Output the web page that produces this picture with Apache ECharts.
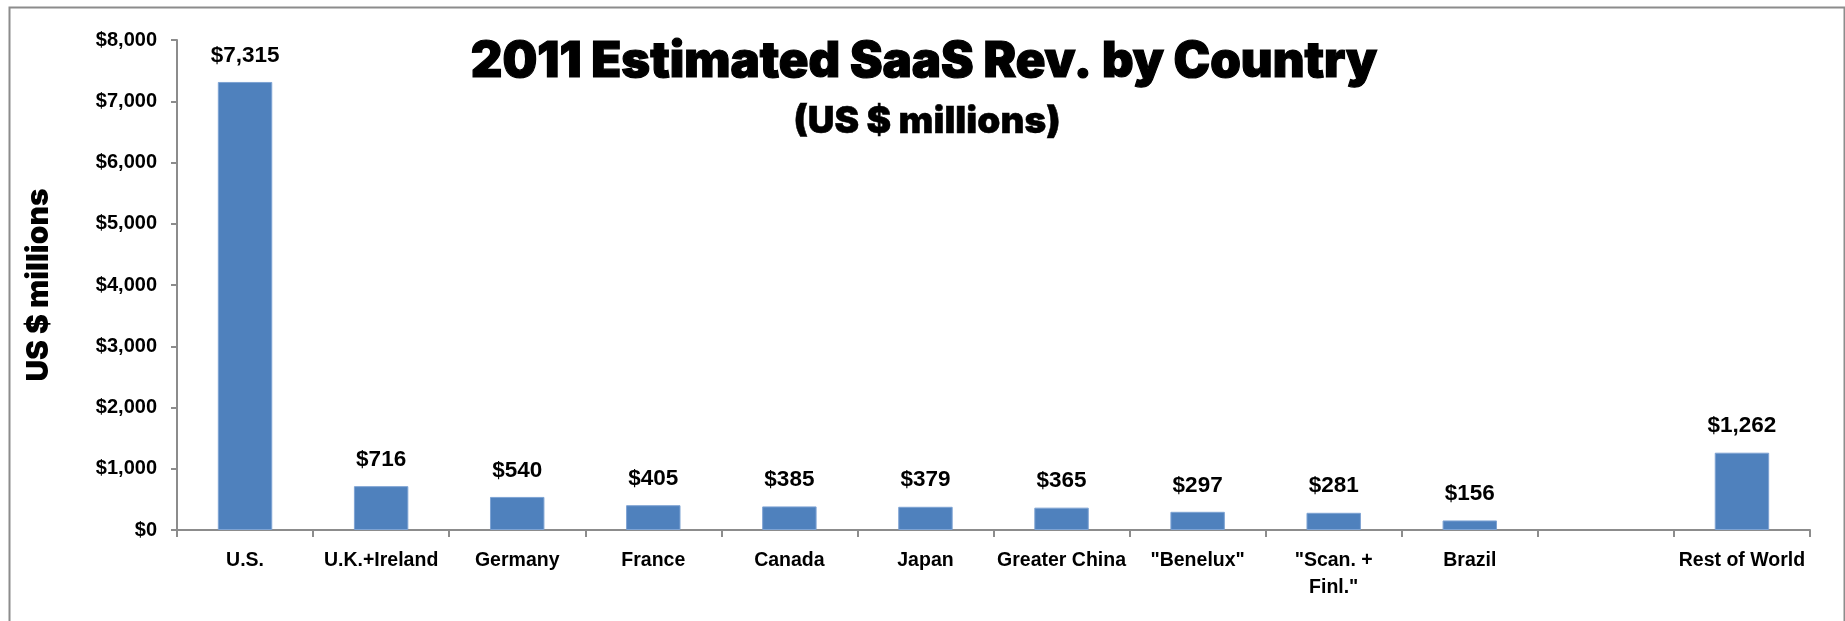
<!DOCTYPE html>
<html><head><meta charset="utf-8">
<script src="https://cdn.jsdelivr.net/npm/echarts@6/dist/echarts.min.js"></script>
<style>html,body{margin:0;padding:0;background:#fff}#c{width:1845px;height:621px}</style>
</head><body><div id="c"></div>
<script>
const categories = ['U.S.', 'U.K.+Ireland', 'Germany', 'France', 'Canada', 'Japan', 'Greater China', '"Benelux"', '"Scan. +\nFinl."', 'Brazil', '', 'Rest of World'];
const revenue = [7315, 716, 540, 405, 385, 379, 365, 297, 281, 156, null, 1262];
const yTicks = [0, 1000, 2000, 3000, 4000, 5000, 6000, 7000, 8000];
const titleText = '2011 Estimated SaaS Rev. by Country';
const subtitleText = '(US $ millions)';
const yAxisName = 'US $ millions';

const fmt = v => '$' + Number(v).toLocaleString('en-US');
const sans = "'Liberation Sans', Arial, sans-serif";
const heavy = "Inter, 'Liberation Sans', sans-serif";
const chart = echarts.init(document.getElementById('c'), null, {renderer: 'canvas'});
chart.setOption({
  animation: false,
  backgroundColor: '#fff',
  graphic: [{
    type: 'rect', left: 7, top: 5,
    shape: {width: 1835, height: 640},
    style: {fill: 'none', stroke: '#8c8c8c', lineWidth: 2}
  }],
  title: [{
    text: titleText, left: 919, top: 33, textAlign: 'center',
    textStyle: {fontFamily: heavy, fontWeight: 900, fontSize: 49, lineHeight: 49, color: '#000', textBorderColor: '#000', textBorderWidth: 1.2}
  }, {
    text: subtitleText, left: 922, top: 98, textAlign: 'center',
    textStyle: {fontFamily: heavy, fontWeight: 900, fontSize: 37, lineHeight: 37, color: '#000', textBorderColor: '#000', textBorderWidth: 0.5}
  }],
  grid: {left: 177, right: 35, top: 40, bottom: 91, containLabel: false},
  xAxis: {
    type: 'category', data: categories,
    axisLine: {lineStyle: {color: '#8c8c8c', width: 2}},
    axisTick: {show: true, length: 7, lineStyle: {color: '#8c8c8c', width: 2}},
    axisLabel: {color: '#000', fontFamily: sans, fontWeight: 'bold', fontSize: 19.5, margin: 17, interval: 0, lineHeight: 27}
  },
  yAxis: {
    type: 'value', min: 0, max: 8000, interval: 1000,
    name: yAxisName, nameLocation: 'middle', nameGap: 123, nameRotate: 90,
    nameTextStyle: {fontFamily: heavy, fontWeight: 900, fontSize: 30, color: '#000'},
    axisLine: {show: true, lineStyle: {color: '#8c8c8c', width: 2}},
    axisTick: {show: true, length: 6, lineStyle: {color: '#8c8c8c', width: 2}},
    splitLine: {show: false},
    axisLabel: {color: '#000', fontFamily: sans, fontWeight: 'bold', fontSize: 20, margin: 20,
      formatter: v => yTicks.includes(v) ? fmt(v) : ''}
  },
  series: [{
    type: 'bar', data: revenue, barWidth: '40%',
    itemStyle: {color: '#4F81BD', borderColor: '#7ea3d3', borderWidth: 1},
    label: {show: true, position: 'top', distance: 15, color: '#000', fontFamily: sans, fontWeight: 'bold', fontSize: 22.5,
      formatter: p => p.value == null ? '' : fmt(p.value)}
  }]
});
</script></body></html>
